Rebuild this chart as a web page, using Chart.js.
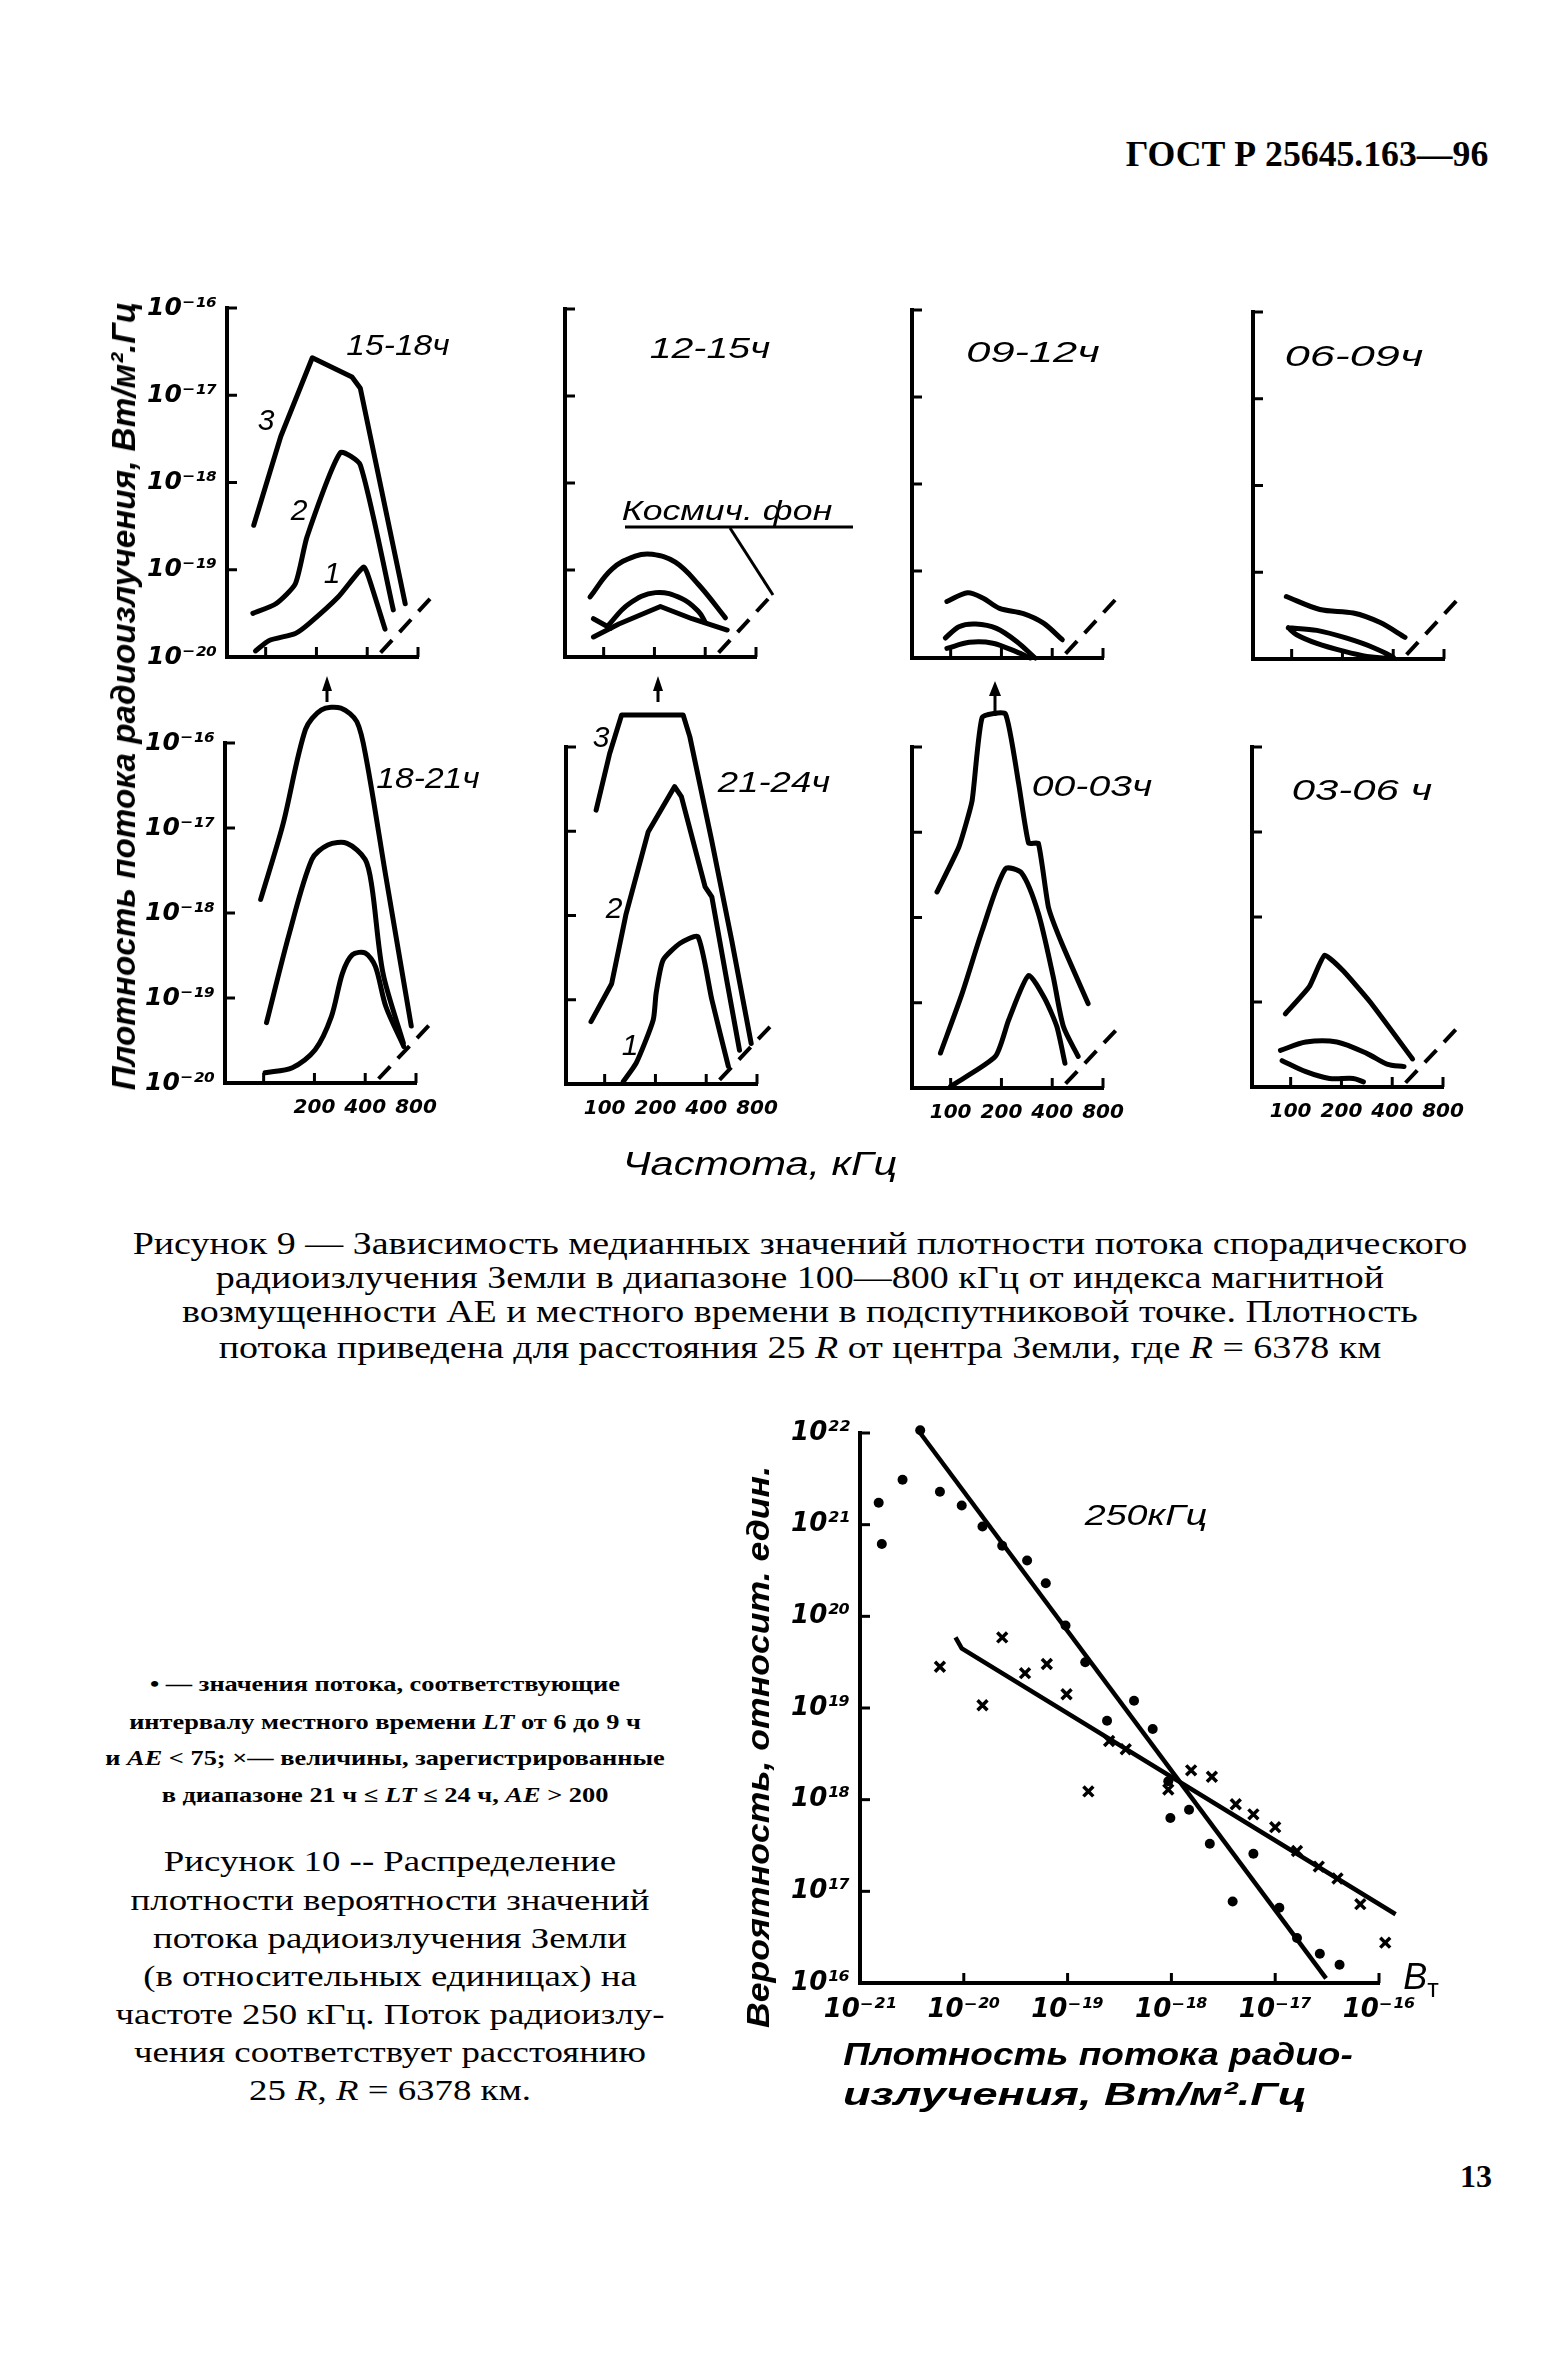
<!DOCTYPE html>
<html lang="ru">
<head>
<meta charset="UTF-8">
<title>ГОСТ Р 25645.163—96 — рисунки 9 и 10</title>
<script src="https://cdn.jsdelivr.net/npm/chart.js"></script>
<style>
  body { margin: 0; background: #fff; }
  #page { position: relative; width: 1556px; height: 2378px; overflow: hidden; background: #fff; color: #000; }
  canvas { position: absolute; }
  svg { position: absolute; left: 0; top: 0; }
  .t { position: absolute; white-space: nowrap; line-height: 1; transform-origin: 50% 50%; }
  .hand { font-family: 'Liberation Sans', sans-serif; font-style: italic; }
  .handb { font-family: 'Liberation Sans', sans-serif; font-style: italic; font-weight: bold; }
  .serif { font-family: 'Liberation Serif', serif; }
  .serifb { font-family: 'Liberation Serif', serif; font-weight: bold; }
</style>
</head>
<body>
<div id="page"></div>

<script>
// ---- Figure 9: axes ----
const freqTicks = [100, 200, 400, 800];            // kHz
const freqLabels = ['100', '200', '400', '800'];
const freqLabels1821 = ['', '200', '400', '800'];
const fluxTicks = [1e-20, 1e-19, 1e-18, 1e-17, 1e-16];
const fluxLabels = ['10⁻²⁰', '10⁻¹⁹', '10⁻¹⁸', '10⁻¹⁷', '10⁻¹⁶'];
const timeLabels = ['15-18ч', '12-15ч', '09-12ч', '06-09ч', '18-21ч', '21-24ч', '00-03ч', '03-06 ч'];

// curves: frequency (kHz) and log10 of flux density (W/m2 Hz)
// cosmic background (dashed)
const bgF = [480, 1000];
const bgLg = [-19.95, -19.28];

// 15-18 ч
const p1c3F = [85, 123, 189, 325, 364, 672];
const p1c3Lg = [-18.49, -17.47, -16.57, -16.79, -16.92, -19.39];
const p1c2F = [84, 115, 150, 176, 277, 364, 571];
const p1c2Lg = [-19.50, -19.39, -19.16, -18.62, -17.66, -17.80, -19.46];
const p1c1F = [87, 105, 150, 180, 270, 380, 407, 510];
const p1c1Lg = [-19.93, -19.81, -19.73, -19.62, -19.31, -18.97, -19.08, -19.68];

// 12-15 ч
const p2aF = [83, 112, 154, 194, 266, 366, 527];
const p2aLg = [-19.31, -18.99, -18.84, -18.82, -18.91, -19.17, -19.55];
const p2bF = [105, 141, 203, 292, 366, 400];
const p2bLg = [-19.65, -19.39, -19.26, -19.33, -19.48, -19.60];
const p2cF = [87, 123, 217, 334, 540];
const p2cLg = [-19.77, -19.62, -19.42, -19.56, -19.69];
const p2dF = [87, 110];
const p2dLg = [-19.56, -19.67];

// 09-12 ч
const p3aF = [95, 126, 155, 195, 270, 355, 459];
const p3aLg = [-19.35, -19.25, -19.31, -19.43, -19.49, -19.60, -19.79];
const p3bF = [93, 112, 141, 187, 246, 317];
const p3bLg = [-19.77, -19.64, -19.61, -19.66, -19.81, -20.0];
const p3cF = [95, 129, 178, 246, 296];
const p3cLg = [-19.89, -19.82, -19.83, -19.93, -20.0];

// 06-09 ч
const p4aF = [93, 147, 232, 335, 470];
const p4aLg = [-19.28, -19.43, -19.47, -19.58, -19.75];
const p4bF = [95.5, 141, 212, 306, 402, 279, 203, 141, 107, 95.5];
const p4bLg = [-19.64, -19.67, -19.76, -19.87, -19.99, -19.97, -19.91, -19.82, -19.72, -19.64];

// 18-21 ч
const p5aF = [96, 130, 177, 220, 287, 357, 407, 530, 750];
const p5aLg = [-17.84, -16.96, -15.84, -15.61, -15.59, -15.75, -16.20, -17.57, -19.33];
const p5bF = [104, 142, 193, 240, 312, 400, 438, 510, 673];
const p5bLg = [-19.29, -18.24, -17.37, -17.20, -17.18, -17.37, -17.69, -18.71, -19.53];
const p5cF = [102, 148, 202, 252, 293, 336, 400, 460, 530, 677];
const p5cLg = [-19.88, -19.82, -19.61, -19.22, -18.71, -18.49, -18.47, -18.63, -19.10, -19.57];

// 21-24 ч
const p6c3F = [89, 107, 126, 292, 320, 431, 566, 739];
const p6c3Lg = [-16.75, -16.08, -15.62, -15.62, -15.88, -17.11, -18.29, -19.52];
const p6c2F = [83, 110, 134, 181, 260, 285, 394, 432, 534, 630];
const p6c2Lg = [-19.26, -18.81, -17.98, -17.01, -16.47, -16.59, -17.66, -17.78, -18.81, -19.60];
const p6c1F = [129, 154, 194, 202, 222, 280, 357, 432, 541];
const p6c1Lg = [-19.97, -19.75, -19.24, -18.92, -18.53, -18.33, -18.25, -19.00, -19.79];

// 00-03 ч
const p7aF = [83, 112, 134, 154, 211, 253, 290, 331, 380, 455, 653];
const p7aLg = [-17.70, -17.17, -16.63, -15.65, -15.61, -16.43, -17.13, -17.13, -17.88, -18.30, -19.01];
const p7bF = [87, 117, 154, 211, 264, 331, 406, 466, 570];
const p7bLg = [-19.59, -18.89, -18.15, -17.43, -17.48, -17.95, -18.70, -19.28, -19.63];
const p7cF = [100, 184, 221, 290, 361, 426, 476];
const p7cLg = [-19.98, -19.63, -19.20, -18.68, -18.95, -19.28, -19.71];

// 03-06 ч
const p8aF = [93, 129, 159, 204, 296, 528];
const p8aLg = [-19.14, -18.82, -18.45, -18.63, -19.00, -19.67];
const p8bF = [87, 123, 188, 286, 372, 470];
const p8bLg = [-19.57, -19.47, -19.47, -19.61, -19.73, -19.76];
const p8cF = [89, 123, 170, 235, 270];
const p8cLg = [-19.69, -19.82, -19.90, -19.90, -19.94];

// ---- Figure 10: log10 of flux (x) and probability (y) ----
const dotLx = [-20.82, -20.79, -20.59, -20.42, -20.23, -20.02, -19.82, -19.63, -19.39, -19.21, -19.02, -18.83, -18.62,
               -18.36, -18.18, -18.03, -18.01, -17.83, -17.63, -17.41, -17.21, -16.96, -16.79, -16.57, -16.38];
const dotLy = [21.24, 20.79, 21.49, 22.03, 21.36, 21.21, 20.98, 20.77, 20.61, 20.36, 19.90, 19.50, 18.86,
               19.08, 18.77, 18.20, 17.80, 17.89, 17.52, 16.89, 17.41, 16.82, 16.49, 16.32, 16.20];
const crossLx = [-20.23, -19.82, -19.63, -19.41, -19.20, -19.01, -18.80, -18.60, -18.44, -18.03,
                 -17.81, -17.61, -17.38, -17.21, -17.00, -16.79, -16.58, -16.40, -16.18, -15.94];
const crossLy = [19.45, 19.03, 19.77, 19.38, 19.48, 19.15, 18.09, 18.64, 18.55, 18.11,
                 18.32, 18.25, 17.95, 17.84, 17.70, 17.44, 17.27, 17.14, 16.86, 16.44];
const dotFitLx = [-20.42, -16.51];
const dotFitLy = [22.0, 16.05];
const crossFitLx = [-20.08, -20.02, -15.84];
const crossFitLy = [19.77, 19.65, 16.75];
const f10xTicks = [1e-21, 1e-20, 1e-19, 1e-18, 1e-17, 1e-16];
const f10xLabels = ['10⁻²¹', '10⁻²⁰', '10⁻¹⁹', '10⁻¹⁸', '10⁻¹⁷', '10⁻¹⁶'];
const f10yTicks = [1e16, 1e17, 1e18, 1e19, 1e20, 1e21, 1e22];
const f10yLabels = ['10¹⁶', '10¹⁷', '10¹⁸', '10¹⁹', '10²⁰', '10²¹', '10²²'];

// ---- layout ----
const page = document.getElementById('page');
Chart.defaults.color = '#000';
const tickFont = size => ({ family: 'DejaVu Sans', style: 'italic', weight: 'bold', size });

const panelLeft = [227, 565, 912, 1253, 225, 566, 912, 1252];
const panelTop = [308, 309, 310, 312, 743, 747, 747, 747];
const panelBottom = [657, 657, 658, 659, 1083, 1084, 1088, 1087];
const PW = 191, PL = 130, PT = 80, PR = 90, PB = 70;

// tick marks pointing into the plot, like the drawing
const inTicks = {
  id: 'inTicks',
  afterDatasetsDraw(chart) {
    const { ctx, chartArea: a, scales: { x, y } } = chart;
    ctx.save();
    ctx.strokeStyle = '#000';
    ctx.lineWidth = 3;
    x.ticks.forEach(t => {
      const px = x.getPixelForValue(t.value);
      ctx.beginPath(); ctx.moveTo(px, a.bottom); ctx.lineTo(px, a.bottom - 10); ctx.stroke();
    });
    y.ticks.forEach(t => {
      const py = y.getPixelForValue(t.value);
      ctx.beginPath(); ctx.moveTo(a.left, py); ctx.lineTo(a.left + 10, py); ctx.stroke();
    });
    ctx.restore();
  }
};

function pts(xs, ys) { return xs.map((v, i) => ({ x: v, y: Math.pow(10, ys[i]) })); }
function ptsLog(xs, ys) { return xs.map((v, i) => ({ x: Math.pow(10, v), y: Math.pow(10, ys[i]) })); }

function makeCanvas(left, top, w, h) {
  const c = document.createElement('canvas');
  c.width = w; c.height = h;
  c.style.left = left + 'px'; c.style.top = top + 'px';
  c.style.width = w + 'px'; c.style.height = h + 'px';
  page.appendChild(c);
  return c;
}

function panel(i, curves, showY, xLabels) {
  const L = panelLeft[i], T = panelTop[i], H = panelBottom[i] - T;
  const c = makeCanvas(L - PL, T - PT, PL + PW + PR, PT + H + PB);
  const datasets = curves.map(cv => ({ data: pts(cv[0], cv[1]), tension: cv[2], borderWidth: 5 }));
  datasets.push({ data: pts(bgF, bgLg), tension: 0, borderWidth: 4, borderDash: [17, 11], borderCapStyle: 'butt' });
  new Chart(c, {
    type: 'line',
    data: { datasets },
    plugins: [inTicks],
    options: {
      responsive: false,
      animation: false,
      layout: { padding: { top: PT, right: PR, left: 0, bottom: 0 } },
      plugins: { legend: { display: false }, tooltip: { enabled: false } },
      elements: {
        point: { radius: 0 },
        line: { borderColor: '#000', borderCapStyle: 'round', borderJoinStyle: 'round', fill: false }
      },
      datasets: { line: { clip: false } },
      scales: {
        x: {
          type: 'logarithmic', min: 59, max: 800,
          afterBuildTicks: s => { s.ticks = freqTicks.map(v => ({ value: v })); },
          afterFit: s => { s.height = PB; },
          grid: { drawOnChartArea: false, drawTicks: false },
          border: { color: '#000', width: 4 },
          ticks: {
            display: !!xLabels, autoSkip: false, maxRotation: 0, padding: 13,
            font: tickFont(20),
            callback: (v, k) => xLabels ? xLabels[k] : ''
          }
        },
        y: {
          type: 'logarithmic', min: 1e-20, max: 1e-16,
          afterBuildTicks: s => { s.ticks = fluxTicks.map(v => ({ value: v })); },
          afterFit: s => { s.width = PL; },
          grid: { drawOnChartArea: false, drawTicks: false },
          border: { color: '#000', width: 4 },
          ticks: {
            display: showY, autoSkip: false, padding: 10,
            font: tickFont(25),
            callback: (v, k) => fluxLabels[k]
          }
        }
      }
    }
  });
}

panel(0, [[p1c3F, p1c3Lg, 0], [p1c2F, p1c2Lg, 0.2], [p1c1F, p1c1Lg, 0.2]], true, null);
panel(1, [[p2aF, p2aLg, 0.4], [p2bF, p2bLg, 0.4], [p2cF, p2cLg, 0], [p2dF, p2dLg, 0]], false, null);
panel(2, [[p3aF, p3aLg, 0.3], [p3bF, p3bLg, 0.3], [p3cF, p3cLg, 0.3]], false, null);
panel(3, [[p4aF, p4aLg, 0.3], [p4bF, p4bLg, 0.3]], false, null);
panel(4, [[p5aF, p5aLg, 0.3], [p5bF, p5bLg, 0.3], [p5cF, p5cLg, 0.3]], true, freqLabels1821);
panel(5, [[p6c3F, p6c3Lg, 0], [p6c2F, p6c2Lg, 0], [p6c1F, p6c1Lg, 0.2]], false, freqLabels);
panel(6, [[p7aF, p7aLg, 0.15], [p7bF, p7bLg, 0.25], [p7cF, p7cLg, 0.2]], false, freqLabels);
panel(7, [[p8aF, p8aLg, 0.15], [p8bF, p8bLg, 0.3], [p8cF, p8cLg, 0.3]], false, freqLabels);

// ---- Figure 10 ----
(function () {
  const L = 860, T = 1433, R = 1379, B = 1983;
  const padL = 110, padT = 40, padR = 80, padB = 60;
  const c = makeCanvas(L - padL, T - padT, padL + (R - L) + padR, padT + (B - T) + padB);
  new Chart(c, {
    type: 'scatter',
    data: {
      datasets: [
        { data: ptsLog(dotFitLx, dotFitLy), showLine: true, borderColor: '#000', borderWidth: 4.5, pointRadius: 0, tension: 0 },
        { data: ptsLog(crossFitLx, crossFitLy), showLine: true, borderColor: '#000', borderWidth: 4.5, pointRadius: 0, tension: 0 },
        { data: ptsLog(dotLx, dotLy), pointStyle: 'circle', pointRadius: 5, backgroundColor: '#000', borderColor: '#000', borderWidth: 0 },
        { data: ptsLog(crossLx, crossLy), pointStyle: 'crossRot', pointRadius: 7, borderColor: '#000', borderWidth: 3.5 }
      ]
    },
    plugins: [inTicks],
    options: {
      responsive: false,
      animation: false,
      layout: { padding: { top: padT, right: padR, left: 0, bottom: 0 } },
      plugins: { legend: { display: false }, tooltip: { enabled: false } },
      datasets: { scatter: { clip: false } },
      scales: {
        x: {
          type: 'logarithmic', min: 1e-21, max: 1e-16,
          afterBuildTicks: s => { s.ticks = f10xTicks.map(v => ({ value: v })); },
          afterFit: s => { s.height = padB; },
          grid: { drawOnChartArea: false, drawTicks: false },
          border: { color: '#000', width: 4 },
          ticks: {
            autoSkip: false, maxRotation: 0, padding: 12,
            font: tickFont(26),
            callback: (v, k) => f10xLabels[k]
          }
        },
        y: {
          type: 'logarithmic', min: 1e16, max: 1e22,
          afterBuildTicks: s => { s.ticks = f10yTicks.map(v => ({ value: v })); },
          afterFit: s => { s.width = padL; },
          grid: { drawOnChartArea: false, drawTicks: false },
          border: { color: '#000', width: 4 },
          ticks: {
            autoSkip: false, padding: 10,
            font: tickFont(26),
            callback: (v, k) => f10yLabels[k]
          }
        }
      }
    }
  });
})();

// ---- text ----
function put(html, cx, cy, cls, size, width, rot) {
  const d = document.createElement('div');
  d.className = 't ' + cls;
  d.style.fontSize = size + 'px';
  d.innerHTML = html;
  d.style.left = cx + 'px';
  d.style.top = cy + 'px';
  page.appendChild(d);
  const k = width ? width / d.offsetWidth : 1;
  d.style.transform = 'translate(-50%,-50%)' + (rot ? ' rotate(' + rot + 'deg)' : '') + ' scaleX(' + k.toFixed(3) + ')';
  return d;
}
// several lines sharing one horizontal scale, taken from reference line `ref`
function putLines(lines, cx, ys, cls, size, ref, refWidth) {
  const els = lines.map((h, i) => put(h, cx, ys[i], cls, size));
  const k = refWidth / els[ref].offsetWidth;
  els.forEach(d => { d.style.transform = 'translate(-50%,-50%) scaleX(' + k.toFixed(3) + ')'; });
}

put('ГОСТ Р 25645.163—96', 1307, 154, 'serifb', 36, 362);

// figure 9 annotations
put('Плотность потока радиоизлучения, Вт/м².Гц', 123, 696, 'handb', 34, 788, -90);
const timePos = [[398, 345, 103], [710, 348, 120], [1033, 352, 133], [1354, 356, 138],
                 [428, 778, 103], [774, 782, 112], [1092, 786, 120], [1362, 790, 141]];
timeLabels.forEach((s, i) => put(s, timePos[i][0], timePos[i][1], 'hand', 30, timePos[i][2]));
put('3', 266, 420, 'hand', 30); put('2', 299, 510, 'hand', 30); put('1', 332, 573, 'hand', 30);
put('3', 601, 737, 'hand', 30); put('2', 614, 908, 'hand', 30); put('1', 630, 1045, 'hand', 30);
put('Космич. фон', 727, 511, 'hand', 28, 211);
put('Частота, кГц', 760, 1163, 'hand', 34, 274);

putLines([
  'Рисунок 9 — Зависимость медианных значений плотности потока спорадического',
  'радиоизлучения Земли в диапазоне 100—800 кГц от индекса магнитной',
  'возмущенности АЕ и местного времени в подспутниковой точке. Плотность',
  'потока приведена для расстояния 25 <i>R</i> от центра Земли, где <i>R</i> = 6378 км'
], 800, [1243, 1277, 1311, 1347], 'serif', 31, 0, 1335);

// figure 10 annotations
put('250кГц', 1146, 1515, 'hand', 30, 123);
put('В<span style="font-size:0.7em;font-style:normal;position:relative;top:0.3em">т</span>', 1421, 1977, 'hand', 36);
put('Вероятность, относит. един.', 758, 1747, 'handb', 32, 562, -90);
put('Плотность потока радио-', 1098, 2054, 'handb', 32, 509);
put('излучения, Вт/м².Гц', 1075, 2094, 'handb', 32, 464);

putLines([
  '• — значения потока, соответствующие',
  'интервалу местного времени <i>LT</i> от 6 до 9 ч',
  'и <i>AE</i> &lt; 75; ×— величины, зарегистрированные',
  'в диапазоне 21 ч ≤ <i>LT</i> ≤ 24 ч, <i>AE</i> &gt; 200'
], 385, [1684, 1722, 1758, 1795], 'serifb', 21, 2, 559);

putLines([
  'Рисунок 10 -- Распределение',
  'плотности вероятности значений',
  'потока радиоизлучения Земли',
  '(в относительных единицах) на',
  'частоте 250 кГц. Поток радиоизлу-',
  'чения соответствует расстоянию',
  '25 <i>R</i>, <i>R</i> = 6378 км.'
], 390, [1861, 1900, 1938, 1976, 2014, 2052, 2090], 'serif', 30, 4, 549);

put('13', 1476, 2176, 'serifb', 32);

// ---- arrows and leader line ----
const NS = 'http://www.w3.org/2000/svg';
const svg = document.createElementNS(NS, 'svg');
svg.setAttribute('width', 1556); svg.setAttribute('height', 2378);
page.appendChild(svg);
function seg(x1, y1, x2, y2, w) {
  const l = document.createElementNS(NS, 'line');
  l.setAttribute('x1', x1); l.setAttribute('y1', y1); l.setAttribute('x2', x2); l.setAttribute('y2', y2);
  l.setAttribute('stroke', '#000'); l.setAttribute('stroke-width', w);
  svg.appendChild(l);
}
function arrow(x, tip, end, hw) {
  seg(x, end, x, tip + 8, 3);
  const p = document.createElementNS(NS, 'polygon');
  p.setAttribute('points', `${x},${tip} ${x - hw},${tip + 15} ${x + hw},${tip + 15}`);
  svg.appendChild(p);
}
arrow(327, 676, 702, 5);
arrow(658, 676, 702, 5);
arrow(995, 681, 716, 6);
seg(625, 527, 853, 527, 3);
seg(730, 528, 773, 595, 3);
</script>
</body>
</html>
